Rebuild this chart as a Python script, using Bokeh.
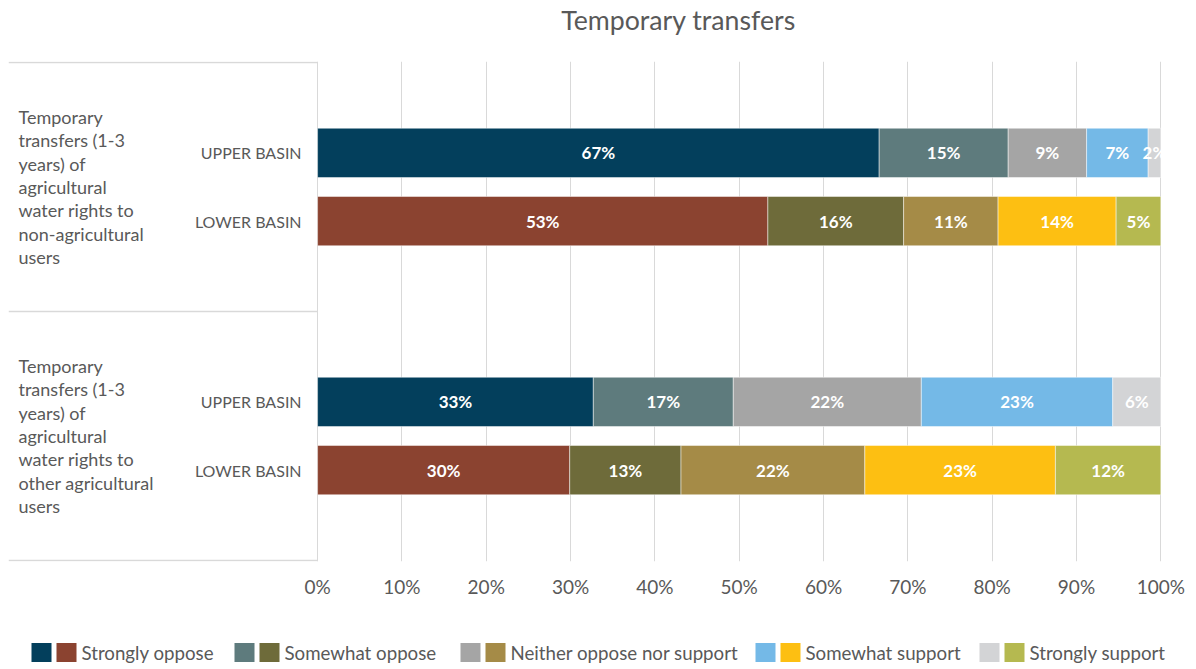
import numpy as np
from bokeh.plotting import figure
from bokeh.models import Range1d, FixedTicker, PrintfTickFormatter, ColumnDataSource
from bokeh.layouts import column, row
from bokeh.core.properties import value
from bokeh.embed import file_html
from bokeh.resources import INLINE

# ---------------- data ----------------
title = "Temporary transfers"
categories = ["Strongly oppose", "Somewhat oppose", "Neither oppose nor support",
              "Somewhat support", "Strongly support"]
groups = [
    "Temporary\ntransfers (1-3\nyears) of\nagricultural\nwater rights to\nnon-agricultural\nusers",
    "Temporary\ntransfers (1-3\nyears) of\nagricultural\nwater rights to\nother agricultural\nusers",
]
basins = ["UPPER BASIN", "LOWER BASIN"]
upper_g1 = [66.6, 15.3, 9.3, 7.3, 1.5]
lower_g1 = [53.4, 16.1, 11.2, 14.0, 5.3]
upper_g2 = [32.7, 16.6, 22.3, 22.7, 5.7]
lower_g2 = [29.9, 13.2, 21.8, 22.6, 12.5]
ticks = list(range(0, 101, 10))

upper_colors = ["#033F5C", "#5E7B7D", "#A5A5A5", "#74B9E7", "#D3D4D6"]
lower_colors = ["#8B4330", "#6E6B3A", "#A58B47", "#FDBF12", "#B5B950"]

FONT = "Lato"
TXT = "#595959"
GRID = "#D9D9D9"
W = 1196
FRAME_L, FRAME_W = 8, 1154

# ---------------- header (title) ----------------
head = figure(width=W, height=50, x_range=Range1d(FRAME_L, FRAME_L + FRAME_W), y_range=Range1d(0, 50),
              output_backend="svg", toolbar_location=None,
              min_border_left=FRAME_L, min_border_right=W - FRAME_L - FRAME_W,
              min_border_top=0, min_border_bottom=0,
              x_axis_location=None, y_axis_location=None)
head.outline_line_color = None
head.grid.visible = False
head.text(x=[678], y=[31], text=[title], text_color=TXT, text_font=value(FONT),
          text_font_size="26.7px", text_align="center", text_baseline="middle")

# ---------------- main chart ----------------
px_per_pct = 8.43
panel_px = 309
x_start = -panel_px / px_per_pct
x_end = 100.2
bar_offset = 0.137
bar_height = 0.198

p = figure(width=W, height=576,
           x_range=Range1d(x_start, x_end), y_range=Range1d(-0.004, 2.004),
           output_backend="svg", toolbar_location=None,
           min_border_left=FRAME_L, min_border_right=W - FRAME_L - FRAME_W,
           min_border_top=11, min_border_bottom=65,
           y_axis_location=None)
p.outline_line_color = None

p.xgrid.ticker = FixedTicker(ticks=ticks)
p.xgrid.grid_line_color = GRID
p.xgrid.grid_line_width = 1
p.ygrid.visible = False

ax = p.xaxis[0]
ax.ticker = FixedTicker(ticks=ticks)
ax.formatter = PrintfTickFormatter(format="%d%%")
ax.axis_line_color = None
ax.major_tick_line_color = None
ax.minor_tick_line_color = None
ax.major_tick_out = 0
ax.major_label_standoff = 13
ax.major_label_text_font = FONT
ax.major_label_text_font_size = "19px"
ax.major_label_text_color = TXT

# left panel separators (group boundaries)
n_groups = len(groups)
bounds = [float(i) for i in range(n_groups + 1)]
p.segment(x0=[x_start] * len(bounds), x1=[0] * len(bounds), y0=bounds, y1=bounds,
          line_color=GRID, line_width=1.5)

# bars
series = [(upper_g1, lower_g1), (upper_g2, lower_g2)]
rows = dict(y=[], left=[], right=[], color=[], mid=[], label=[])
cat_y, cat_text = [], []
grp_y = []
for gi, (up, lo) in enumerate(series):
    center = n_groups - gi - 0.5
    grp_y.append(center)
    for bi, (vals, cols) in enumerate(((up, upper_colors), (lo, lower_colors))):
        y = center + bar_offset if bi == 0 else center - bar_offset
        cat_y.append(y)
        cat_text.append(basins[bi])
        right = np.cumsum(vals)
        left = right - np.array(vals)
        for k, v in enumerate(vals):
            rows["y"].append(y)
            rows["left"].append(left[k])
            rows["right"].append(right[k])
            rows["color"].append(cols[k])
            rows["mid"].append((left[k] + right[k]) / 2)
            rows["label"].append(f"{v:.0f}%")

src = ColumnDataSource(rows)
p.hbar(y="y", left="left", right="right", height=bar_height, fill_color="color",
       line_color="white", line_width=0.8, line_alpha=0.6, source=src)
p.text(x="mid", y="y", text="label", source=src, text_color="white",
       text_font=value(FONT), text_font_style="bold", text_font_size="17px",
       text_align="center", text_baseline="middle")

# category labels
p.text(x=[-16 / px_per_pct] * len(cat_y), y=cat_y, text=cat_text,
       text_color=TXT, text_font=value(FONT), text_font_size="16px",
       text_align="right", text_baseline="middle")

# group labels
p.text(x=[x_start + 10 / px_per_pct] * n_groups, y=grp_y, text=groups,
       text_color=TXT, text_font=value(FONT), text_font_size="18px",
       text_align="left", text_baseline="middle", text_line_height=1.06)

# ---------------- legend (own full-width frame) ----------------
leg = figure(width=W, height=43, x_range=Range1d(0, W), y_range=Range1d(0, 43),
             output_backend="svg", toolbar_location=None, min_border=0,
             x_axis_location=None, y_axis_location=None)
leg.outline_line_color = None
leg.grid.visible = False

legend_x = [31, 234, 460, 755, 979]
sq_w, sq_h, gap, standoff = 20, 19, 5, 5
ly = 17
leg.rect(x=[x + sq_w / 2 for x in legend_x], y=[ly] * 5, width=sq_w, height=sq_h,
         fill_color=upper_colors, line_color=None)
leg.rect(x=[x + sq_w + gap + sq_w / 2 for x in legend_x], y=[ly] * 5, width=sq_w, height=sq_h,
         fill_color=lower_colors, line_color=None)
leg.text(x=[x + 2 * sq_w + gap + standoff for x in legend_x], y=[ly] * 5, text=categories,
         text_color=TXT, text_font=value(FONT), text_font_size="18.7px",
         text_align="left", text_baseline="middle")

layout = column(head, p, row(leg, spacing=0), spacing=0)
open("out.html", "w").write(file_html(layout, INLINE))
